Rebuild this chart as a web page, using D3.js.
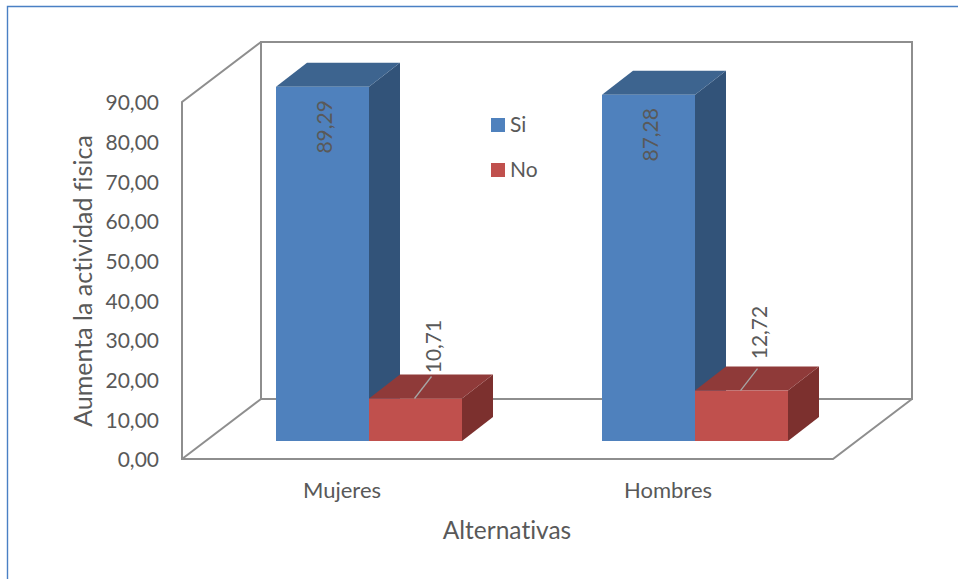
<!DOCTYPE html>
<html>
<head>
<meta charset="utf-8">
<script src="https://cdn.jsdelivr.net/npm/d3@7/dist/d3.min.js"></script>
<style>
  html, body { margin: 0; padding: 0; background: #fff; }
  svg { display: block; }
  text { font-family: Lato, "Open Sans", sans-serif; fill: #595959; font-variant-ligatures: none; }
</style>
</head>
<body>
<svg id="chart" width="958" height="579"></svg>
<script>
const categories = ["Mujeres", "Hombres"];
const seriesNames = ["Si", "No"];
const siValues = [89.29, 87.28];
const noValues = [10.71, 12.72];
const yTicks = [0, 10, 20, 30, 40, 50, 60, 70, 80, 90];

// Face colours for each series: front, top, side
const seriesFaces = [
  { front: "#4f81bd", top: "#3d648f", side: "#325379" },
  { front: "#c0504d", top: "#8f3a39", side: "#7c302e" }
];

const svg = d3.select("#chart");
const decimalComma = d3.formatLocale({ decimal: ",", thousands: ".", grouping: [3], currency: ["", ""] }).format(".2f");

const x = d3.scaleBand().domain(categories).range([182, 834]);
const y = d3.scaleLinear().domain([0, 90]).range([459, 102]);

// Oblique projection: wall depth, bar depth, and where bars sit on the floor
const wall = { dx: 79, dy: -60 };
const bar = { dx: 31, dy: -24, width: 93, offX: 24, offY: -18 };
const line = d3.line();

// Outer frame: only the top and left edges are visible
svg.append("path")
  .attr("d", line([[7.5, 579], [7.5, 6.5], [958, 6.5]]))
  .attr("fill", "none").attr("stroke", "#4a80c4").attr("stroke-width", 1.4);

// Walls and floor of the 3D plot box
const x0 = x.range()[0], x1 = x.range()[1] - 1, yB = y(0), yT = y(90);
const wallStyle = sel => sel.attr("fill", "none").attr("stroke", "#8e8e8e")
  .attr("stroke-width", 2).attr("stroke-linejoin", "miter");
svg.append("path").call(wallStyle).attr("d", line([
  [x0 + wall.dx, yB + wall.dy], [x0 + wall.dx, yT + wall.dy], [x1 + wall.dx, yT + wall.dy],
  [x1 + wall.dx, yB + wall.dy], [x0 + wall.dx, yB + wall.dy]
]));
svg.append("path").call(wallStyle).attr("d", line([
  [x0 + wall.dx, yT + wall.dy], [x0, yT], [x0, yB], [x1, yB], [x1 + wall.dx, yB + wall.dy]
]));
svg.append("path").call(wallStyle).attr("d", line([[x0, yB], [x0 + wall.dx, yB + wall.dy]]));

// Value axis labels
const yAxis = svg.append("g").attr("transform", `translate(${x0 - 23},1)`)
  .call(d3.axisLeft(y).tickValues(yTicks).tickFormat(decimalComma).tickSize(0).tickPadding(0));
yAxis.select(".domain").remove();
yAxis.selectAll("text").attr("font-size", 21).style("font-family", "Lato").attr("fill", "#595959");

// Category axis labels
const xAxis = svg.append("g").attr("transform", "translate(-3,482)")
  .call(d3.axisBottom(x).tickSize(0).tickPadding(0));
xAxis.select(".domain").remove();
xAxis.selectAll("text").attr("font-size", 22).style("font-family", "Lato").attr("fill", "#595959");

// Height of the value label above the short bars' top edge, per category
const noLabelLift = [52, 58];

// Bars: one oblique box per series within each category
[siValues, noValues].forEach((values, s) => {
  const faces = seriesFaces[s];
  const g = svg.append("g").selectAll("g").data(values).join("g");
  const left = (d, i) => x(categories[i]) + x.bandwidth() / 2 + bar.offX + (s - 1) * bar.width;
  const base = bar.offY;
  g.append("path").attr("fill", faces.side).attr("d", (d, i) => {
    const r = left(d, i) + bar.width, t = y(d) + base, b = y(0) + base;
    return line([[r, t], [r + bar.dx, t + bar.dy], [r + bar.dx, b + bar.dy], [r, b]]) + "Z";
  });
  g.append("path").attr("fill", faces.top).attr("d", (d, i) => {
    const l = left(d, i), t = y(d) + base;
    return line([[l, t], [l + bar.dx, t + bar.dy], [l + bar.width + bar.dx, t + bar.dy], [l + bar.width, t]]) + "Z";
  });
  g.append("rect").attr("fill", faces.front)
    .attr("x", left).attr("width", bar.width)
    .attr("y", d => y(d) + base).attr("height", d => y(0) - y(d));

  // Rotated value labels; the short series gets a leader line across the bar top
  g.append("text")
    .attr("transform", (d, i) => {
      const cx = left(d, i) + bar.width / 2;
      return s === 0
        ? `translate(${cx + 1},${y(d) + base + 40}) rotate(-90)`
        : `translate(${cx + 17},${y(d) + base - noLabelLift[i]}) rotate(-90)`;
    })
    .attr("text-anchor", "middle").attr("dominant-baseline", "central")
    .attr("font-size", 21).attr("fill", "#404040")
    .text(d => decimalComma(d));
  if (s === 1) {
    g.append("path").attr("fill", "none").attr("stroke", "#a6a6a6").attr("stroke-width", 1.3)
      .attr("d", (d, i) => {
        const cx = left(d, i) + bar.width / 2, t = y(d) + base;
        return line([[cx - 1, t], [cx + 16, t - 22]]);
      });
  }
});

// Axis titles
svg.append("text")
  .attr("transform", "translate(82,281) rotate(-90)")
  .attr("text-anchor", "middle").attr("dominant-baseline", "central")
  .attr("font-size", 25).text("Aumenta la actividad fisica");
svg.append("text")
  .attr("x", 507).attr("y", 529)
  .attr("text-anchor", "middle").attr("dominant-baseline", "central")
  .attr("font-size", 24.5).text("Alternativas");

// Legend placed inside the plot
const legend = svg.append("g").selectAll("g").data(seriesNames).join("g")
  .attr("transform", (d, i) => `translate(491,${118 + i * 45})`);
legend.append("rect").attr("width", 14).attr("height", 14).attr("fill", (d, i) => seriesFaces[i].front);
legend.append("text").attr("x", 19).attr("y", 5.5)
  .attr("dominant-baseline", "central").attr("font-size", 21).text(d => d);
</script>
</body>
</html>
